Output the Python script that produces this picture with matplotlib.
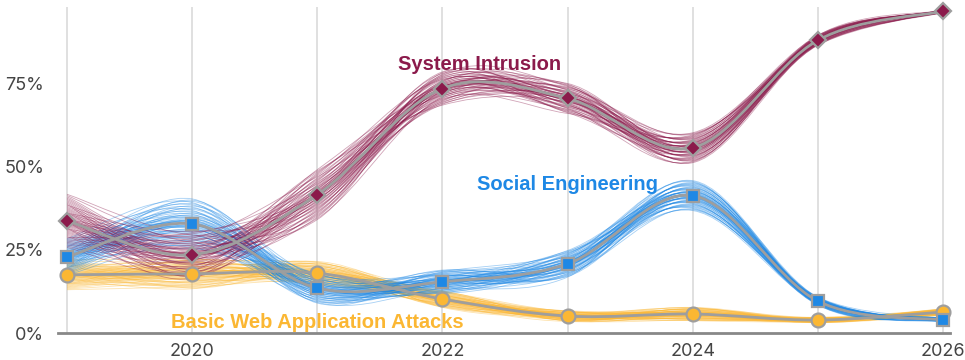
import numpy as np
import matplotlib
matplotlib.use("Agg")
import matplotlib.pyplot as plt
from matplotlib.path import Path
from matplotlib.patches import PathPatch

# Data (share of breaches, %)
years = [2019, 2020, 2021, 2022, 2023, 2024, 2025, 2026]
system_intrusion = [33.7, 23.5, 41.6, 73.5, 70.5, 55.7, 88.0, 96.7]
social_engineering = [22.9, 32.8, 13.5, 15.4, 20.8, 41.3, 9.6, 3.9]
basic_web = [17.5, 17.8, 18.0, 10.2, 5.1, 5.7, 3.9, 6.3]

# Half-width of the bundle of thin lines around each series (%)
si_spread = [8.0, 7.0, 7.5, 5.0, 4.5, 4.5, 1.5, 0.4]
se_spread = [5.5, 7.5, 4.5, 3.5, 4.0, 4.5, 1.2, 0.6]
bw_spread = [4.5, 4.5, 3.5, 2.5, 1.6, 2.0, 0.8, 1.0]

x_labels = ['', '2020', '', '2022', '', '2024', '', '2026']
y_ticks = [0, 25, 50, 75]

COLORS = {
    'si': '#8B1A4B',
    'se': '#1E88E5',
    'bw': '#FBB733',
    'mean': '#9E9E9E',
}

# index multipliers used to shuffle the thin lines from point to point
SHUFFLE = [1, 7, 3, 11, 5, 13, 2, 9]
N_LINES = 61


def smooth_path(xs, ys):
    """Catmull-Rom curve through the points as a cubic Bezier path"""
    pts = np.column_stack([xs, ys]).astype(float)
    n = len(pts)
    verts = [pts[0]]
    codes = [Path.MOVETO]
    for i in range(n - 1):
        p0 = pts[max(i - 1, 0)]
        p1 = pts[i]
        p2 = pts[i + 1]
        p3 = pts[min(i + 2, n - 1)]
        c1 = p1 + (p2 - p0) / 6.0
        c2 = p2 - (p3 - p1) / 6.0
        verts += [c1, c2, p2]
        codes += [Path.CURVE4] * 3
    return Path(verts, codes)


def draw_series(ax, values, spread, color, marker, msize, mew=1.6):
    vals = np.array(values, dtype=float)
    spr = np.array(spread, dtype=float)
    base = np.linspace(-1, 1, N_LINES)
    base = np.sign(base) * np.abs(base) ** 1.5
    for k in range(N_LINES):
        frac = np.array([base[(k * SHUFFLE[i] + 3 * i) % N_LINES]
                         for i in range(len(vals))])
        p = smooth_path(years, vals + frac * spr)
        ax.add_patch(PathPatch(p, facecolor='none', edgecolor=color,
                               lw=0.6, alpha=0.4, zorder=2))
    ax.add_patch(PathPatch(smooth_path(years, vals), facecolor='none',
                           edgecolor=COLORS['mean'], lw=2.0, zorder=4))
    ax.plot(years, vals, linestyle='none', marker=marker, markersize=msize,
            markerfacecolor=color, markeredgecolor=COLORS['mean'],
            markeredgewidth=mew, zorder=5, clip_on=False)


fig = plt.figure(figsize=(9.65, 3.6), dpi=100)
ax = fig.add_axes([58 / 965, 27 / 360, 892 / 965, 326 / 360])

draw_series(ax, basic_web, bw_spread, COLORS['bw'], 'o', 10)
draw_series(ax, social_engineering, se_spread, COLORS['se'], 's', 8)
draw_series(ax, system_intrusion, si_spread, COLORS['si'], 'D', 8)

ax.set_xlim(2018.928, 2026.056)
ax.set_ylim(0, 98)

ax.set_xticks(years)
ax.set_xticklabels(x_labels)
ax.set_yticks(y_ticks)
ax.set_yticklabels([f'{v}%' for v in y_ticks])
ax.tick_params(length=0, labelsize=13, labelcolor='#444444')
ax.tick_params(axis='y', pad=10)
ax.tick_params(axis='x', pad=7)
for lbl in ax.get_xticklabels() + ax.get_yticklabels():
    lbl.set_family('Inter')

ax.grid(True, axis='x', color='#dddddd', lw=1.3)
ax.set_axisbelow(True)
for s in ['top', 'right', 'left']:
    ax.spines[s].set_visible(False)
ax.spines['bottom'].set_color('#888888')
ax.spines['bottom'].set_linewidth(2)

font = 'Liberation Sans'
ax.text(2022.30, 80.8, 'System Intrusion', color=COLORS['si'], fontsize=14.5,
        fontweight='bold', ha='center', va='center', family=font, zorder=6)
ax.text(2023.0, 44.6, 'Social Engineering', color=COLORS['se'], fontsize=14.5,
        fontweight='bold', ha='center', va='center', family=font, zorder=6)
ax.text(2021.0, 3.3, 'Basic Web Application Attacks', color=COLORS['bw'],
        fontsize=14.5, fontweight='bold', ha='center', va='center',
        family=font, zorder=6)

fig.savefig('out.png', dpi=100, facecolor='white')
